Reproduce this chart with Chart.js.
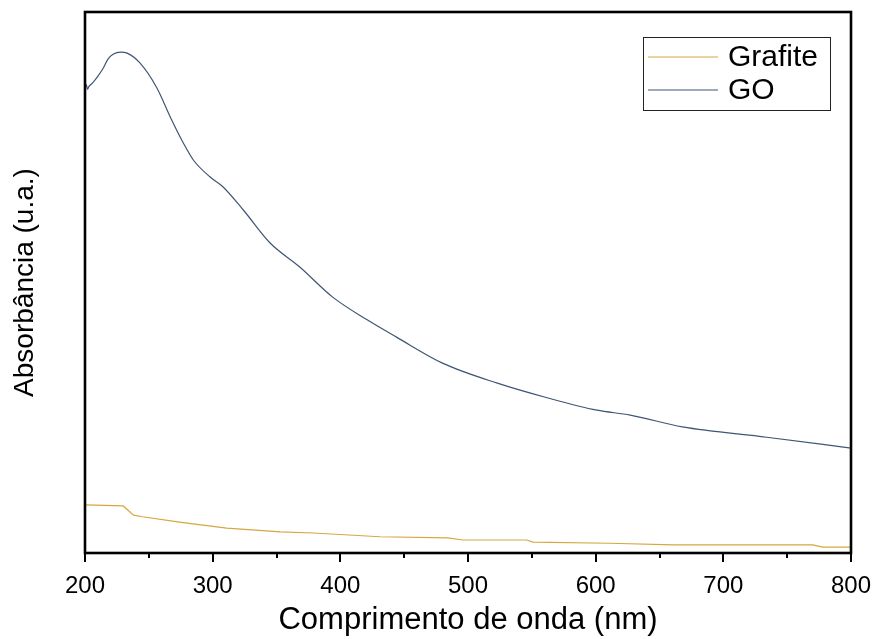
<!DOCTYPE html>
<html>
<head>
<meta charset="utf-8">
<script src="https://cdn.jsdelivr.net/npm/chart.js@4"></script>
<style>
  html, body { margin: 0; padding: 0; background: #fff; }
  #wrap { width: 875px; height: 639px; }
</style>
</head>
<body>
<div id="wrap"><canvas id="uvvis"></canvas></div>
<script>
// GO spectrum (nm, arbitrary absorbance)
const goNm = [200, 201, 202, 203, 206, 210, 214, 218, 222, 228, 233, 243, 256, 268, 277, 285, 298, 308, 324, 345, 368, 394, 421, 444, 480, 523, 562, 601, 627, 668, 734, 800];
const goAbs = [0.858, 0.866, 0.857, 0.862, 0.869, 0.881, 0.895, 0.913, 0.922, 0.926, 0.924, 0.906, 0.861, 0.800, 0.758, 0.726, 0.695, 0.677, 0.634, 0.573, 0.529, 0.473, 0.431, 0.399, 0.351, 0.314, 0.287, 0.264, 0.255, 0.233, 0.214, 0.194];

// Grafite spectrum
const grafiteNm = [200, 230, 238, 245, 274, 311, 353, 379, 431, 484, 496, 546, 551, 611, 661, 770, 778, 800];
const grafiteAbs = [0.089, 0.087, 0.070, 0.067, 0.057, 0.046, 0.039, 0.037, 0.030, 0.028, 0.024, 0.024, 0.020, 0.018, 0.015, 0.015, 0.011, 0.011];

const xTicks = [200, 300, 400, 500, 600, 700, 800];

const toPoints = (xs, ys) => xs.map((x, i) => ({ x: x, y: ys[i] }));

// frame, outward tick marks and a boxed legend like the Origin plot
const framePlugin = {
  id: "frame",
  afterDraw(chart) {
    const { ctx, chartArea: a, scales } = chart;
    const xs = scales.x;
    ctx.save();
    ctx.strokeStyle = "#000";
    ctx.lineWidth = 2;
    for (let v = 200; v <= 800; v += 50) {
      const px = Math.round(xs.getPixelForValue(v));
      const len = v % 100 === 0 ? 9 : 5;
      ctx.beginPath();
      ctx.moveTo(px, a.bottom);
      ctx.lineTo(px, a.bottom + len);
      ctx.stroke();
    }
    ctx.lineWidth = 2.6;
    ctx.strokeRect(a.left, a.top, a.right - a.left, a.bottom - a.top);

    // legend box
    const bx = 643, by = 37, bw = 187, bh = 73;
    ctx.lineWidth = 1;
    ctx.strokeStyle = "#222";
    ctx.strokeRect(bx + 0.5, by + 0.5, bw, bh);
    ctx.font = "30px 'Liberation Sans', Arial, sans-serif";
    ctx.textBaseline = "middle";
    ctx.fillStyle = "#000";
    chart.data.datasets.forEach((ds, i) => {
      const y = by + 20 + i * 33;
      ctx.strokeStyle = ds.borderColor;
      ctx.lineWidth = 1.2;
      ctx.beginPath();
      ctx.moveTo(648, y);
      ctx.lineTo(718, y);
      ctx.stroke();
      ctx.fillText(ds.label, 728, y + 1);
    });
    ctx.restore();
  }
};

new Chart(document.getElementById("uvvis"), {
  type: "line",
  data: {
    datasets: [
      {
        label: "Grafite",
        data: toPoints(grafiteNm, grafiteAbs),
        borderColor: "#d6a73e",
        borderWidth: 1.2,
        pointRadius: 0,
        tension: 0
      },
      {
        label: "GO",
        data: toPoints(goNm, goAbs),
        borderColor: "#3f5673",
        borderWidth: 1.2,
        pointRadius: 0,
        cubicInterpolationMode: "monotone"
      }
    ]
  },
  options: {
    responsive: true,
    maintainAspectRatio: false,
    animation: false,
    layout: { padding: { top: 12, right: 24, left: 0, bottom: 0 } },
    plugins: {
      legend: { display: false },
      tooltip: { enabled: false }
    },
    scales: {
      x: {
        type: "linear",
        min: 200,
        max: 800,
        afterBuildTicks: s => { s.ticks = xTicks.map(v => ({ value: v })); },
        afterFit: s => { s.height = 86; s.paddingLeft = 0; s.paddingRight = 0; },
        grid: { display: false },
        border: { display: false },
        ticks: {
          color: "#000",
          padding: 11,
          font: { family: "'Liberation Sans', Arial, sans-serif", size: 24 }
        },
        title: {
          display: true,
          text: "Comprimento de onda (nm)",
          color: "#000",
          padding: { top: 0, bottom: 0 },
          font: { family: "'Liberation Sans', Arial, sans-serif", size: 31 }
        }
      },
      y: {
        min: 0,
        max: 1,
        afterFit: s => { s.width = 85; },
        grid: { display: false },
        border: { display: false },
        ticks: { display: false },
        title: {
          display: true,
          text: "Absorbância (u.a.)",
          color: "#000",
          padding: { top: 8, bottom: 0 },
          font: { family: "'Liberation Sans', Arial, sans-serif", size: 28 }
        }
      }
    }
  },
  plugins: [framePlugin]
});
</script>
</body>
</html>
